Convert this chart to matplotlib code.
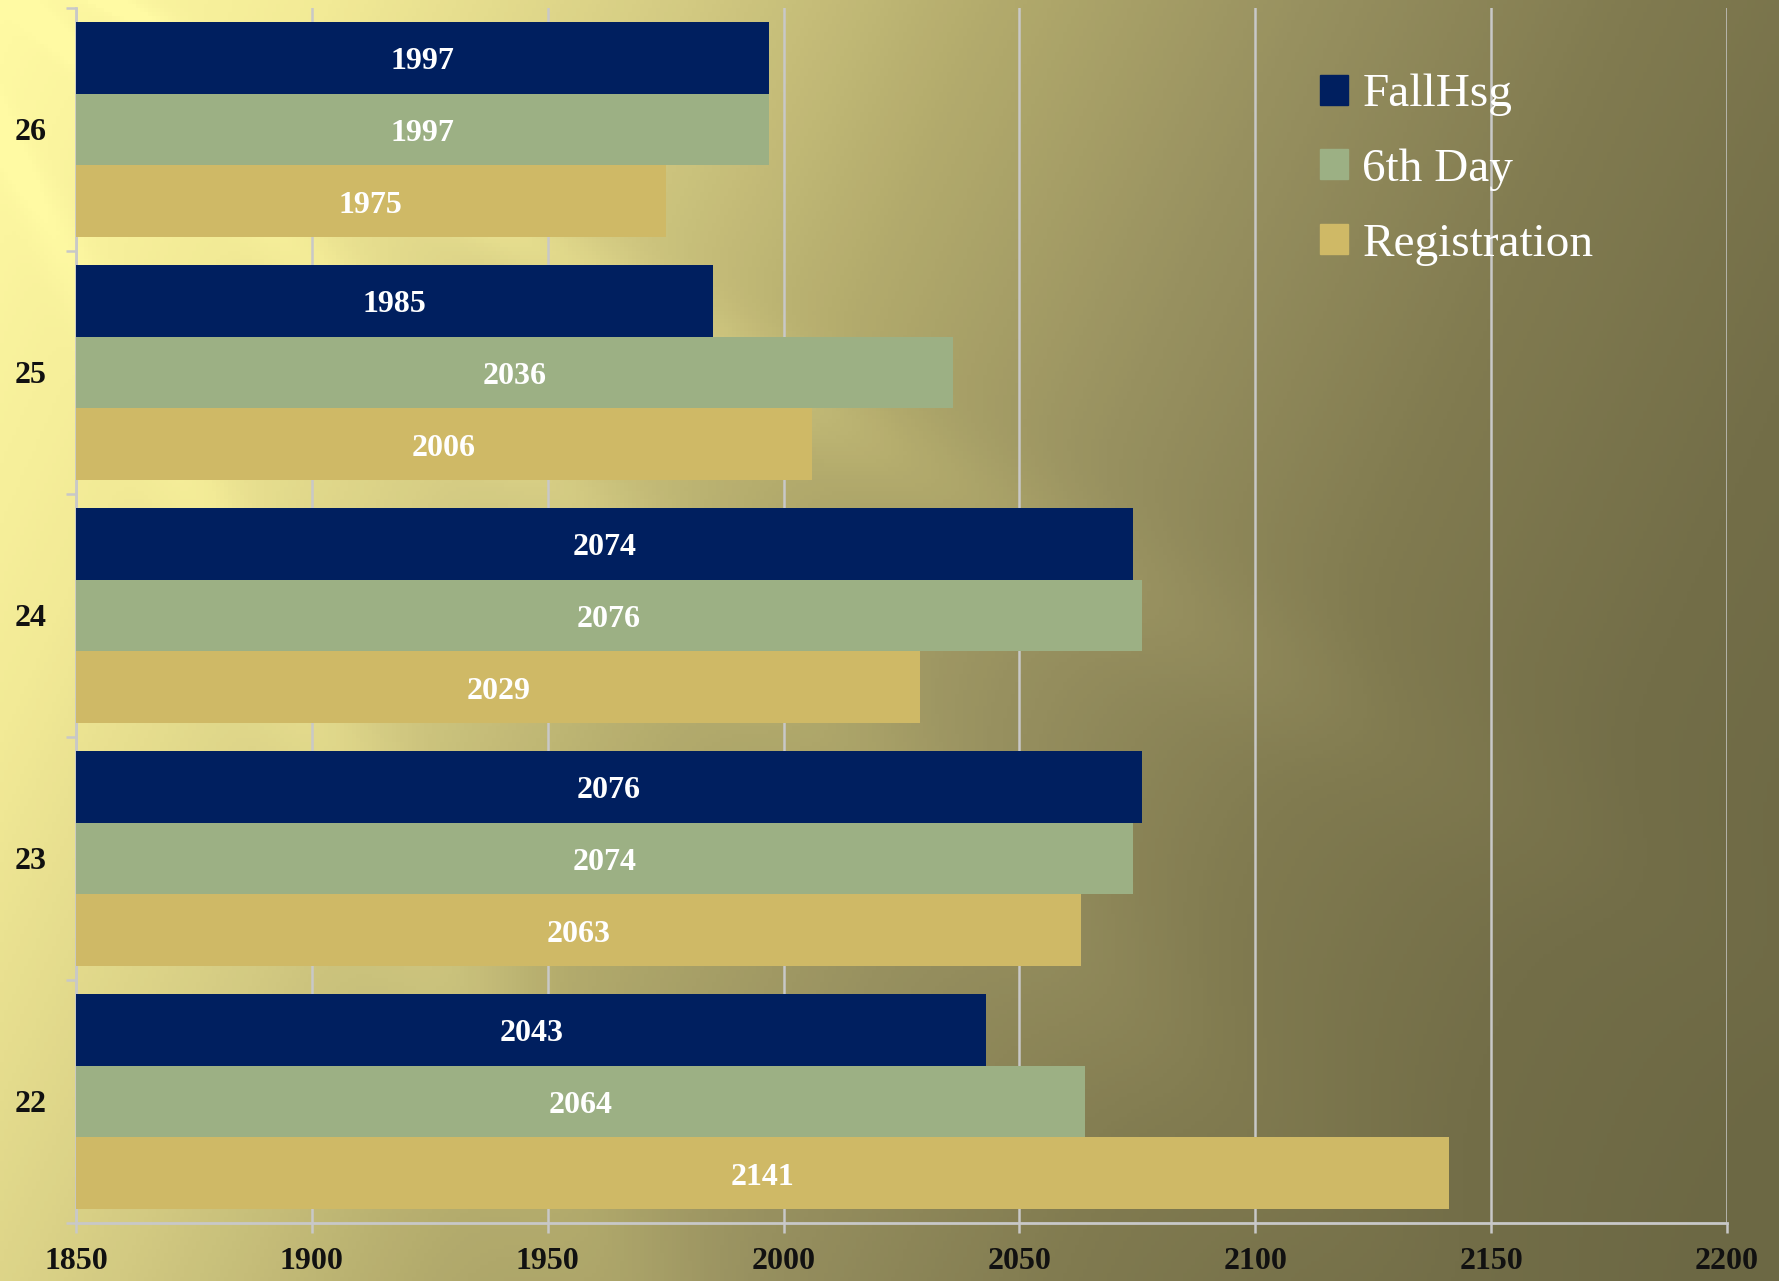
import numpy as np
import matplotlib
matplotlib.use("Agg")
import matplotlib.pyplot as plt
from matplotlib.colors import LinearSegmentedColormap
from matplotlib.patches import Patch

# data
categories = ['22', '23', '24', '25', '26']
fall_hsg = [2043, 2076, 2074, 1985, 1997]
sixth_day = [2064, 2074, 2076, 2036, 1997]
registration = [2141, 2063, 2029, 2006, 1975]
series_names = ['FallHsg', '6th Day', 'Registration']
x_ticks = [1850, 1900, 1950, 2000, 2050, 2100, 2150, 2200]

plt.rcParams['font.family'] = ['Liberation Serif', 'DejaVu Serif']

W, H = 1779, 1281
fig = plt.figure(figsize=(W / 100, H / 100), dpi=100)

# background gradient, yellow top-left to olive right
bg = fig.add_axes([0, 0, 1, 1], zorder=-5)
yy, xx = np.mgrid[0:H:4, 0:W:4]
u = xx / W
v = yy / H
t = np.clip(0.78 * u + 0.25 * v, 0, 1)
# soft light rays from the top-left corner
ang = np.degrees(np.arctan2(yy + 150, xx + 150))
rays = (0.08 * np.exp(-((ang - 30) / 2.5) ** 2)
        + 0.06 * np.exp(-((ang - 42) / 3.0) ** 2)
        + 0.06 * np.exp(-((ang - 62) / 3.0) ** 2))
t = np.clip(t - rays * (1 - 0.6 * u), 0, 1)
cmap = LinearSegmentedColormap.from_list(
    'bg', ['#FFFAA3', '#F2EA96', '#D6CD84', '#B4AC6D', '#989160', '#817B50', '#736E48', '#6C6844'])
bg.imshow(t, cmap=cmap, aspect='auto', extent=[0, 1, 0, 1], vmin=0, vmax=1)
bg.set_axis_off()

ax = fig.add_axes([76 / W, (H - 1223) / H, (1727 - 76) / W, (1223 - 8) / H])
ax.set_facecolor('none')

colors = ['#001F5F', '#9CB084', '#CFB966']
base = 1850
h = 0.296
offsets = [h, 0, -h]
y = np.arange(len(categories))

for vals, off, col, name in zip([fall_hsg, sixth_day, registration], offsets, colors, series_names):
    widths = [v - base for v in vals]
    bars = ax.barh(y + off, widths, height=h, left=base, color=col, label=name, zorder=3)
    txts = ax.bar_label(bars, labels=[str(v) for v in vals], label_type='center',
                        color='white', fontsize=23, fontweight='bold')
    for tx in txts:
        tx.set_y(-3)  # nudge down a little

ax.set_xlim(1850, 2200)
ax.set_ylim(-0.5, len(categories) - 0.5)
ax.set_xticks(x_ticks)
ax.set_xticklabels([str(x) for x in x_ticks])
ax.set_yticks(y)
ax.set_yticklabels(categories)
ax.set_yticks(np.arange(-0.5, len(categories), 1), minor=True)

ax.grid(axis='x', color='#C8C8C8', linewidth=1.8, zorder=0)
ax.set_axisbelow(True)

for s in ['top', 'right']:
    ax.spines[s].set_visible(False)
for s in ['left', 'bottom']:
    ax.spines[s].set_color('#C8C8C8')
    ax.spines[s].set_linewidth(2)

ax.tick_params(axis='x', length=7, width=1.8, color='#C8C8C8', pad=10,
               labelsize=23, labelcolor='#111111')
ax.tick_params(axis='y', which='major', length=0, pad=21, labelsize=23, labelcolor='#111111')
ax.tick_params(axis='y', which='minor', length=7, width=1.8, color='#C8C8C8')
for lab in ax.get_xticklabels() + ax.get_yticklabels():
    lab.set_fontweight('bold')

handles = [Patch(color=c) for c in colors]
ax.legend(handles, series_names, loc='upper left', bbox_to_anchor=(1320 / W, 1 - 74 / H),
          bbox_transform=fig.transFigure, frameon=False, fontsize=34, labelcolor='white',
          handlelength=0.6, handleheight=0.6, handletextpad=0.3, labelspacing=0.68,
          borderpad=0, borderaxespad=0)

plt.savefig('out.png', dpi=100)
